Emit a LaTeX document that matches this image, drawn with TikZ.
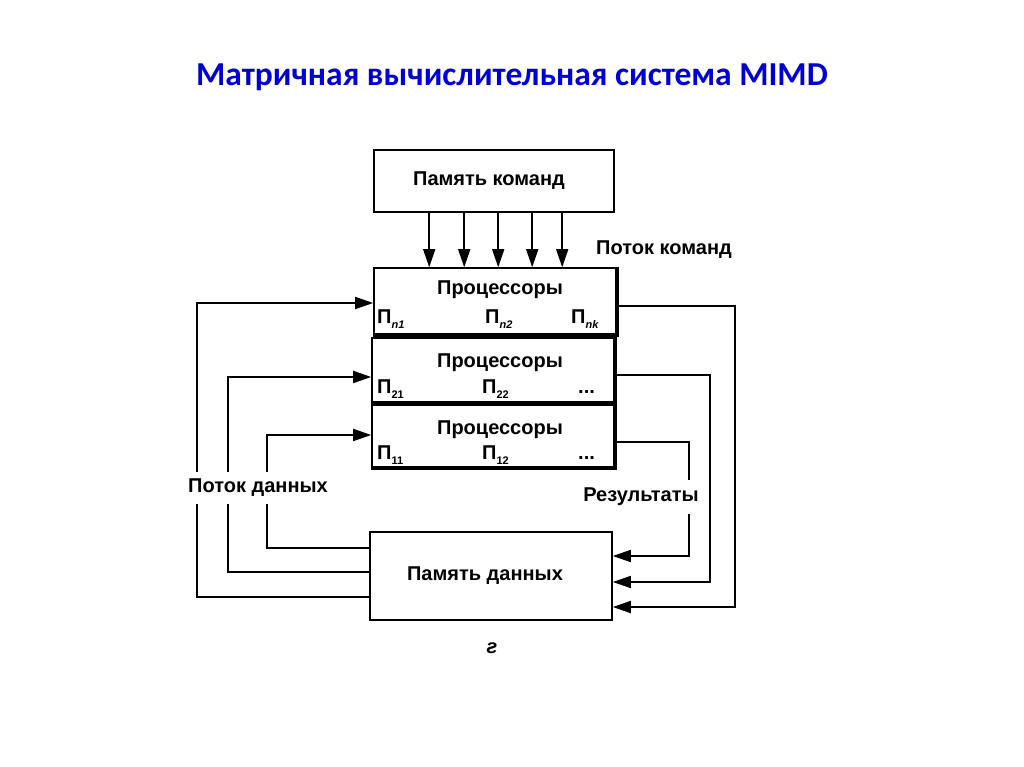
\documentclass[tikz,border=0pt]{standalone}
\usepackage{fontspec}
\setmainfont{Liberation Sans}
\newfontfamily\titlefont{Carlito}
\usetikzlibrary{arrows.meta,calc}
\definecolor{titleblue}{RGB}{0,0,210}
\begin{document}
\begin{tikzpicture}[x=1pt,y=-1pt,
  box/.style={draw, line width=1.6pt, inner sep=0pt},
  lbl/.style={font=\bfseries\fontsize{20}{22}\selectfont, inner sep=1pt},
  plbl/.style={font=\bfseries\fontsize{20}{22}\selectfont, inner sep=0pt, anchor=west},
  ln/.style={line width=1.6pt},
  arr/.style={ln, -{Triangle[length=18pt,width=12pt]}},
  shadowline/.style={line width=4.5pt}]
\useasboundingbox[fill=white] (0,0) rectangle (1024,767);
\newcommand{\Psub}[1]{П\raisebox{-0.45ex}{\fontsize{11}{12}\selectfont #1}}
% title
\node[font=\titlefont\bfseries\fontsize{33.5}{36}\selectfont, text=titleblue] (title) at (512,77) {Матричная вычислительная система MIMD};
% instruction memory
\node[box, minimum width=240pt, minimum height=62pt] (cm) at (494,181) {};
\node[lbl] (cmt) at (489,181) {Память команд};
% processor rows
\node[box, minimum width=242pt, minimum height=66pt] (p1) at (495,301) {};
\node[box, minimum width=242pt, minimum height=64pt] (p2) at (493,370) {};
\node[box, minimum width=242pt, minimum height=62pt] (p3) at (493,436) {};
\draw[shadowline] (p1.south west) -- (p1.south east) -- (p1.north east);
\draw[shadowline] (p2.south west) -- (p2.south east) -- (p2.north east);
\draw[shadowline] (p3.south west) -- (p3.south east) -- (p3.north east);
\node[lbl] (p1t) at (500,290) {Процессоры};
\node[lbl] (p2t) at (500,363) {Процессоры};
\node[lbl] (p3t) at (500,430) {Процессоры};
\node[plbl] (pn1) at (377,319) {\Psub{\itshape n1}};
\node[plbl] (pn2) at (485,319) {\Psub{\itshape n2}};
\node[plbl] (pnk) at (571,319) {\Psub{\itshape nk}};
\node[plbl] (p21) at (377,389) {\Psub{21}};
\node[plbl] (p22) at (482,389) {\Psub{22}};
\node[plbl] (p2d) at (578,392) {...};
\node[plbl] (p11) at (377,455) {\Psub{11}};
\node[plbl] (p12) at (482,455) {\Psub{12}};
\node[plbl] (p1d) at (578,458) {...};
% data memory
\node[box, minimum width=242pt, minimum height=88pt] (dm) at (491,576) {};
\node[lbl] (dmt) at (485,576) {Память данных};
% instruction stream
\foreach \dx in {56,91,125,159,189}
  \draw[arr] ($(cm.south west)+(\dx,0)$) -- ($(p1.north west)+(\dx,0)$);
\node[lbl] (cs) at (664,250) {Поток команд};
% data stream (left)
\draw[arr] ($(dm.west)+(0,21)$) -| (197,303) -- ($(p1.west)+(0,2)$);
\draw[arr] ($(dm.west)+(0,-4)$) -| (228,377) -- ($(p2.west)+(0,7)$);
\draw[arr] ($(dm.west)+(0,-28)$) -| (267,435) -- ($(p3.west)+(0,-1)$);
\node[lbl, fill=white, inner ysep=7pt, inner xsep=2pt] (ds) at (258,488) {Поток данных};
% results (right)
\draw[arr] ($(p1.east)+(0,5)$) -| (735,607) -- ($(dm.east)+(0,31)$);
\draw[arr] ($(p2.east)+(0,5)$) -| (710,582) -- ($(dm.east)+(0,6)$);
\draw[arr] ($(p3.east)+(0,6)$) -| (689,556) -- ($(dm.east)+(0,-20)$);
\node[lbl, fill=white, inner ysep=8pt, inner xsep=0pt] (rs) at (641,497) {Результаты};
% caption
\node[font=\bfseries\fontsize{20}{22}\selectfont\itshape] (cap) at (492,648) {г};
\end{tikzpicture}
\end{document}
